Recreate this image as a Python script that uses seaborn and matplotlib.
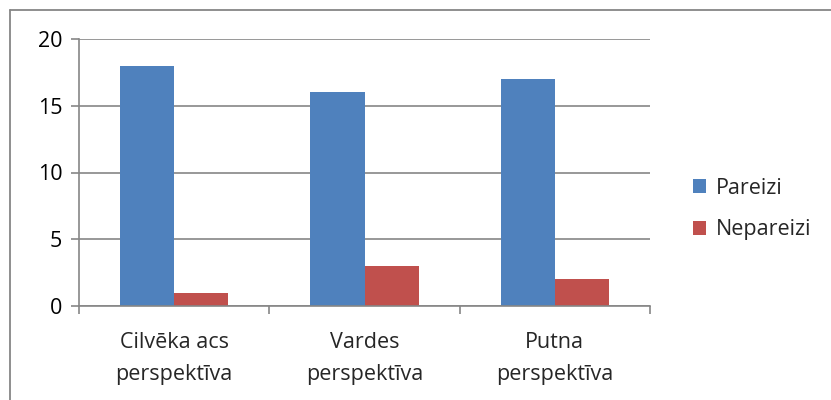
import matplotlib
matplotlib.use("Agg")
import matplotlib.pyplot as plt
import seaborn as sns
import pandas as pd
from matplotlib.lines import Line2D
from matplotlib.patches import Patch

categories = ["Cilvēka acs\nperspektīva", "Vardes\nperspektīva", "Putna\nperspektīva"]
series_names = ["Pareizi", "Nepareizi"]
pareizi = [18, 16, 17]
nepareizi = [1, 3, 2]
yticks = [0, 5, 10, 15, 20]
colors = ["#4F81BD", "#C0504D"]

df = pd.DataFrame({
    "cat": categories * 2,
    "series": [series_names[0]] * 3 + [series_names[1]] * 3,
    "value": pareizi + nepareizi,
})

sns.set_style("white")
plt.rcParams["font.family"] = ["Open Sans", "DejaVu Sans"]

W, H = 831, 400
fs = 15.5
fig = plt.figure(figsize=(W / 100, H / 100), dpi=100)
ax = fig.add_axes([79 / W, 1 - 306 / H, (650 - 79) / W, (306 - 39) / H])

sns.barplot(data=df, x="cat", y="value", hue="series", palette=colors,
            width=0.57, gap=0, saturation=1, ax=ax, legend=False,
            edgecolor="none", linewidth=0)

grid_c = "#868686"
ax.set_ylim(0, 20)
ax.set_xlim(-0.5, 2.5)
ax.set_yticks(yticks)
ax.set_yticklabels([str(v) for v in yticks], fontsize=fs, color="#000000")
ax.yaxis.grid(True, color=grid_c, linewidth=1.2)
ax.set_axisbelow(True)
ax.set_xlabel("")
ax.set_ylabel("")
for s in ["top", "right"]:
    ax.spines[s].set_visible(False)
for s in ["left", "bottom"]:
    ax.spines[s].set_color(grid_c)
    ax.spines[s].set_linewidth(1.2)
ax.tick_params(axis="y", length=6, width=1.2, color=grid_c, pad=6, left=True)
ax.set_xticks([0, 1, 2])
ax.set_xticklabels(categories, fontsize=fs, linespacing=1.68)
ax.tick_params(axis="x", which="major", length=0, pad=19)
ax.set_xticks([-0.5, 0.5, 1.5, 2.5], minor=True)
ax.tick_params(axis="x", which="minor", length=6, width=1.2, color=grid_c, bottom=True)

handles = [Patch(facecolor=c, edgecolor="none") for c in colors]
fig.legend(handles, series_names, loc="center left",
           bbox_to_anchor=(693 / W, 1 - 209 / H), frameon=False, fontsize=fs,
           handlelength=0.62, handleheight=0.62, handletextpad=0.42,
           labelspacing=0.95, borderaxespad=0, borderpad=0)

fig.add_artist(Line2D([9.5 / W, 1], [1 - 10 / H, 1 - 10 / H], transform=fig.transFigure,
                      color=grid_c, linewidth=1.3))
fig.add_artist(Line2D([9.5 / W, 9.5 / W], [1 - 10 / H, 0], transform=fig.transFigure,
                      color=grid_c, linewidth=1.3))

fig.savefig("out.png", dpi=100, facecolor="white")
